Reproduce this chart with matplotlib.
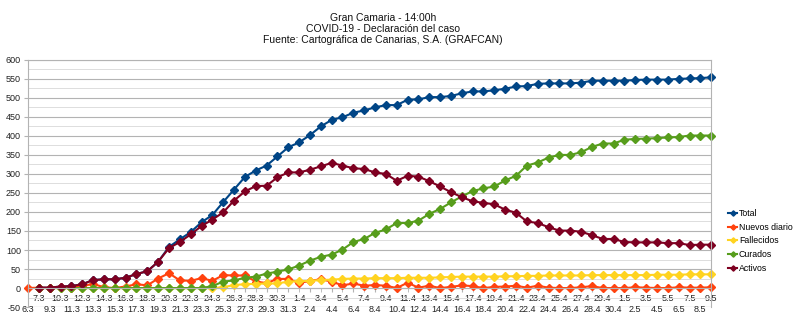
import matplotlib
matplotlib.use('Agg')
import matplotlib.pyplot as plt
import numpy as np

plt.rcParams['font.family'] = ['Liberation Sans', 'DejaVu Sans']
plt.rcParams['axes.unicode_minus'] = False

fechas = ['6.3', '7.3', '9.3', '10.3', '11.3', '12.3', '13.3', '14.3', '15.3', '16.3',
          '17.3', '18.3', '19.3', '20.3', '21.3', '22.3', '23.3', '24.3', '25.3', '26.3',
          '27.3', '28.3', '29.3', '30.3', '31.3', '1.4', '2.4', '3.4', '4.4', '5.4',
          '6.4', '7.4', '8.4', '9.4', '10.4', '11.4', '12.4', '13.4', '14.4', '15.4',
          '16.4', '17.4', '18.4', '19.4', '20.4', '21.4', '22.4', '23.4', '24.4', '25.4',
          '26.4', '27.4', '28.4', '29.4', '30.4', '1.5', '2.5', '3.5', '4.5', '5.5',
          '6.5', '7.5', '8.5', '9.5']

total = [None, 1, 1, 4, 5, 10, 21, 23, 23, 27,
         37, 44, 69, 108, 128, 147, 173, 192, 226, 259,
         292, 309, 322, 346, 370, 383, 402, 425, 442, 449,
         461, 467, 475, 481, 481, 495, 496, 502, 502, 505,
         512, 517, 517, 520, 524, 530, 531, 537, 538, 538,
         538, 540, 545, 545, 545, 545, 547, 548, 548, 548,
         550, 551, 552, 554]

nuevos = [0, 1, 0, 3, 1, 5, 11, 2, 0, 4,
          10, 7, 25, 39, 20, 19, 26, 19, 34, 33,
          33, 17, 13, 24, 24, 13, 19, 23, 17, 7,
          12, 6, 8, 6, 0, 14, 1, 6, 0, 3,
          7, 5, 0, 3, 4, 6, 1, 6, 1, 0,
          0, 2, 5, 0, 0, 0, 2, 1, 0, 0,
          2, 1, 1, 2]

fallecidos = [None, 0, 0, 0, 0, 0, 0, 0, 0, 0,
              0, 0, 0, 0, 0, 0, 0, 0, 2, 8,
              10, 11, 12, 12, 17, 18, 19, 21, 22, 24,
              25, 25, 26, 26, 26, 27, 27, 27, 28, 29,
              30, 30, 30, 30, 31, 31, 32, 32, 33, 33,
              33, 33, 34, 34, 34, 34, 34, 34, 35, 35,
              35, 36, 36, 36]

curados = [None, 0, 0, 0, 0, 0, 0, 0, 0, 0,
           0, 0, 0, 0, 0, 0, 0, 5, 17, 20,
           27, 30, 38, 43, 49, 59, 72, 82, 88, 101,
           121, 129, 145, 154, 171, 171, 177, 195, 208, 225,
           241, 255, 262, 267, 283, 295, 322, 330, 343, 350,
           350, 357, 371, 380, 380, 390, 392, 393, 394, 396,
           397, 401, 401, 401]

activos = [None, 1, 1, 4, 5, 10, 21, 23, 23, 27,
           37, 44, 69, 105, 121, 141, 163, 180, 199, 230,
           254, 268, 269, 291, 304, 304, 311, 320, 329, 322,
           315, 313, 304, 300, 282, 295, 293, 281, 267, 252,
           239, 228, 224, 220, 206, 198, 175, 171, 160, 151,
           151, 148, 139, 129, 129, 121, 120, 120, 120, 118,
           118, 113, 114, 114]

series = [
    ('Total', total, '#004586'),
    ('Nuevos diario', nuevos, '#ff420e'),
    ('Fallecidos', fallecidos, '#ffd320'),
    ('Curados', curados, '#579d1c'),
    ('Activos', activos, '#7e0021'),
]

x = np.arange(len(fechas))

fig = plt.figure(figsize=(8.0, 3.27), dpi=100)
ax = fig.add_axes([0.035, 0.061, 0.854, 0.756])

for nombre, valores, color in series:
    y = np.array([np.nan if v is None else v for v in valores], dtype=float)
    ax.plot(x, y, color=color, linewidth=1.5, marker='D', markersize=3.6,
            label=nombre, clip_on=False)

ax.set_xlim(0, len(fechas) - 1)
ax.set_ylim(-50, 600)
ax.set_yticks(np.arange(-50, 601, 50))
ax.set_yticks(np.arange(-25, 600, 50), minor=True)
ax.grid(axis='y', which='major', color='#b3b3b3', linewidth=0.8)
ax.grid(axis='y', which='minor', color='#dddddd', linewidth=0.7)
ax.set_axisbelow(True)

# eje x cruza en 0, etiquetas en dos filas
ax.spines['bottom'].set_position(('data', 0))
for s in ['bottom', 'left', 'right', 'top']:
    ax.spines[s].set_color('#b3b3b3')
    ax.spines[s].set_linewidth(0.8)
ax.axhline(-50, color='#b3b3b3', linewidth=0.8, zorder=0)

ax.set_xticks(x[0::2])
ax.set_xticklabels(fechas[0::2])
ax.set_xticks(x[1::2], minor=True)
ax.set_xticklabels(fechas[1::2], minor=True)
ax.tick_params(axis='x', which='major', length=3, pad=9.2, color='#b3b3b3',
               labelsize=6.5, labelcolor='#222222')
ax.tick_params(axis='x', which='minor', length=3, pad=1.5, color='#b3b3b3',
               labelsize=6.5, labelcolor='#222222')
ax.tick_params(axis='y', which='both', length=3, color='#b3b3b3',
               labelsize=6.5, labelcolor='#222222', pad=2)
ax.tick_params(axis='y', which='minor', length=0)

fig.text(0.479, 0.96, 'Gran Camaria - 14:00h\nCOVID-19 - Declaración del caso\n'
         'Fuente: Cartográfica de Canarias, S.A. (GRAFCAN)',
         ha='center', va='top', fontsize=7.5, linespacing=1.1, color='#111111')

fig.legend(loc='center left', bbox_to_anchor=(0.905, 0.263), frameon=False,
           fontsize=6.3, handlelength=1.0, handletextpad=0.2, labelspacing=0.55,
           markerscale=0.75, borderpad=0)

fig.savefig('out.png', dpi=100)
